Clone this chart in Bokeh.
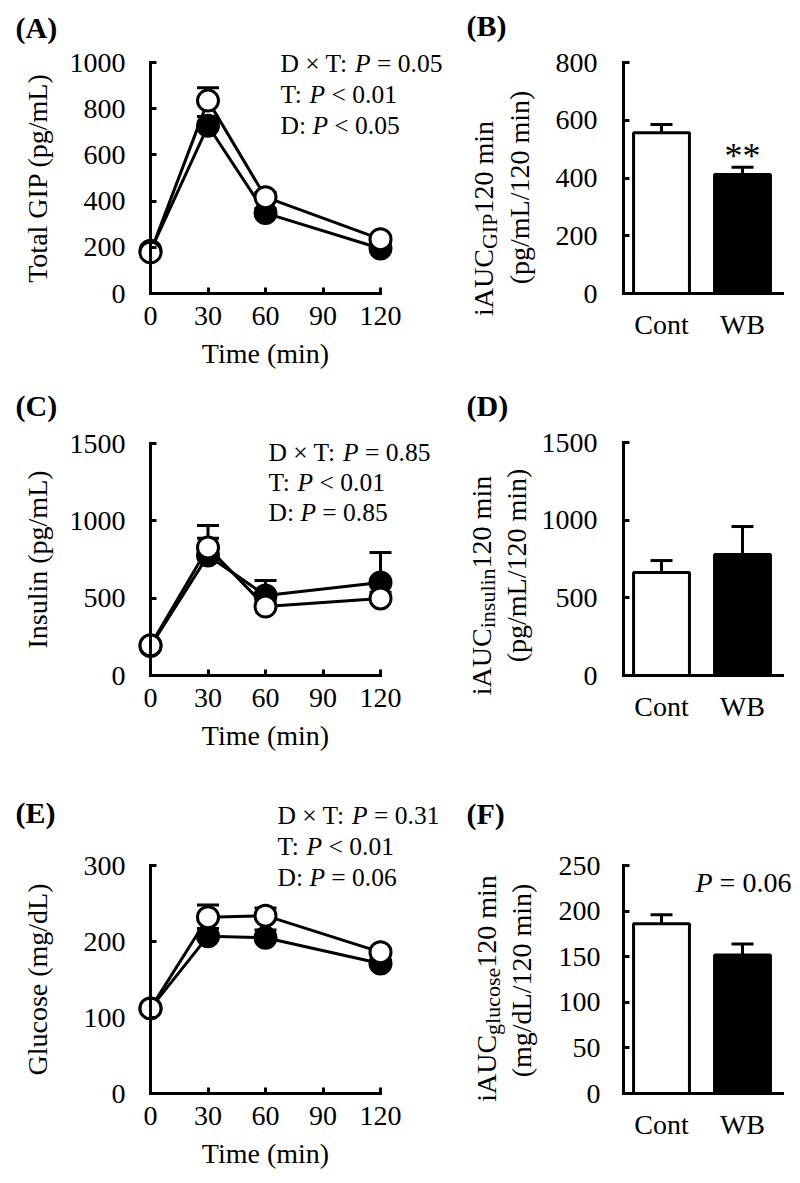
import math
from bokeh.plotting import figure
from bokeh.layouts import column, row
from bokeh.models import Label, Whisker, ColumnDataSource, FixedTicker, Range1d, TeeHead
from bokeh.embed import file_html
from bokeh.resources import INLINE

FONT = "Liberation Serif"

# ---------------- data ----------------
time_points = [0, 30, 60, 120]
time_ticks = [0, 30, 60, 90, 120]
groups = ["Cont", "WB"]

gip_cont = [178, 835, 417, 235]
gip_cont_se = [12, 56, 20, 15]
gip_wb = [185, 726, 348, 195]
gip_wb_se = [12, 40, 20, 15]
gip_ticks = [0, 200, 400, 600, 800, 1000]

ins_cont = [195, 828, 446, 498]
ins_cont_se = [20, 60, 40, 40]
ins_wb = [190, 776, 517, 601]
ins_wb_se = [20, 194, 97, 194]
ins_ticks = [0, 500, 1000, 1500]

glu_cont = [112, 232, 234, 186]
glu_cont_se = [4, 16, 10, 5]
glu_wb = [112, 207, 205, 171]
glu_wb_se = [4, 10, 10, 5]
glu_ticks = [0, 100, 200, 300]

auc_gip = [557, 412]
auc_gip_se = [28, 25]
auc_gip_ticks = [0, 200, 400, 600, 800]

auc_ins = [663, 779]
auc_ins_se = [77, 180]
auc_ins_ticks = [0, 500, 1000, 1500]

auc_glu = [186, 152]
auc_glu_se = [10, 12]
auc_glu_ticks = [0, 50, 100, 150, 200, 250]

# ---------------- text metrics (Times / Liberation Serif) ----------------
W_REG = {' ': 250, 'D': 722, '×': 564, 'T': 611, ':': 278, 'P': 556, '=': 564, '<': 564,
         '.': 250, 'i': 278, 'A': 722, 'U': 722, 'C': 667, 'G': 722, 'I': 333, 'n': 500,
         's': 389, 'u': 500, 'l': 278, 'g': 500, 'c': 444, 'o': 500, 'e': 444, 'm': 778,
         '(': 333, ')': 333, 'p': 500, '/': 278, 'L': 611, 'd': 500, 't': 278, 'W': 944, 'B': 667}
for _d in "0123456789":
    W_REG[_d] = 500
W_ITAL = {'P': 611}


def tw(s, size, italic=False):
    tot = 0
    for c in s:
        if italic and c in W_ITAL:
            tot += W_ITAL[c]
        else:
            tot += W_REG.get(c, 500)
    return tot * size / 1000.0


def make_fig(origin, size, xmap, ymap):
    ox, oy = origin
    W, H = size
    L, T, R, B = ox, oy, ox + W, oy + H
    xd0, xp0, sx = xmap
    yd0, yp0, sy = ymap

    def xd(px):
        return xd0 + (px - xp0) / sx

    def yd(py):
        return yd0 + (yp0 - py) / sy

    p = figure(width=W, height=H, x_range=Range1d(xd(L), xd(R)), y_range=Range1d(yd(B), yd(T)),
               output_backend="svg", toolbar_location=None,
               min_border_left=0, min_border_right=0, min_border_top=0, min_border_bottom=0)
    p.outline_line_color = None
    p.xgrid.visible = False
    p.ygrid.visible = False
    p.background_fill_color = "white"
    p.border_fill_color = "white"
    return p, xd, yd


def style_axis(ax, size=28):
    ax.axis_line_width = 3
    ax.axis_line_color = "black"
    ax.axis_line_cap = "square"
    ax.major_tick_line_width = 3
    ax.major_tick_line_color = "black"
    ax.major_tick_in = 6
    ax.major_tick_out = 0
    ax.minor_tick_line_color = None
    ax.major_label_text_font = FONT
    ax.major_label_text_font_size = f"{size}px"
    ax.major_label_text_color = "black"
    ax.axis_label_text_font = FONT
    ax.axis_label_text_font_size = "28px"
    ax.axis_label_text_font_style = "normal"
    ax.axis_label_text_color = "black"


def add_label(p, x, y, text, size, style="normal", align="left", baseline="middle", angle=0.0):
    p.add_layout(Label(x=x, y=y, text=text, text_font=FONT, text_font_size=f"{size}px",
                       text_font_style=style, text_align=align, text_baseline=baseline,
                       angle=angle, text_color="black"))


def add_segments(p, xd, yd, px, py, segs, size):
    x = px
    for txt, ital in segs:
        add_label(p, xd(x), yd(py), txt, size, style="italic" if ital else "normal")
        x += tw(txt, size, ital) + tw(" ", size)


def errorbars(p, xs, ys, se, head):
    src = ColumnDataSource(dict(x=xs, lo=ys, hi=[a + b for a, b in zip(ys, se)]))
    w = Whisker(source=src, base="x", lower="lo", upper="hi", dimension="height",
                line_width=3, line_color="black",
                upper_head=TeeHead(size=head, line_width=3, line_color="black"),
                lower_head=None, level="underlay")
    p.add_layout(w)


def line_panel(origin, size, ymap, cont, cont_se, wb, wb_se, yticks, ylabel,
               letter, letter_pos, annot, annot_pos, ylab_standoff):
    p, xd, yd = make_fig(origin, size, (0, 150, 230 / 120), ymap)
    errorbars(p, time_points, wb, wb_se, 22)
    errorbars(p, time_points, cont, cont_se, 22)
    p.line(time_points, wb, line_width=3, line_color="black")
    p.scatter(time_points, wb, marker="circle", size=21, fill_color="black",
              line_color="black", line_width=3)
    p.line(time_points, cont, line_width=3, line_color="black")
    p.scatter(time_points, cont, marker="circle", size=21, fill_color="white",
              line_color="black", line_width=3)

    xa = p.xaxis[0]
    ya = p.yaxis[0]
    style_axis(xa)
    style_axis(ya)
    xa.fixed_location = 0
    ya.fixed_location = 0
    xa.ticker = FixedTicker(ticks=time_ticks)
    ya.ticker = FixedTicker(ticks=yticks)
    xa.bounds = (time_ticks[0], time_ticks[-1])
    ya.bounds = (yticks[0], yticks[-1])
    xa.major_label_standoff = 13
    ya.major_label_standoff = 25
    xa.axis_label = "Time (min)"
    xa.axis_label_standoff = 10
    ya.axis_label = ylabel
    ya.axis_label_standoff = ylab_standoff

    add_label(p, xd(letter_pos[0]), yd(letter_pos[1]), letter, 30, style="bold")
    ax0, ay0, dy = annot_pos
    for k, segs in enumerate(annot):
        add_segments(p, xd, yd, ax0, ay0 + k * dy, segs, 25.5)
    return p


def bar_panel(origin, size, ymap, vals, se, yticks, letter, letter_pos,
              sub, lab1_pos, lab2_pos, ylab_standoff_px=26):
    xmap = (1, 661, 81)
    p, xd, yd = make_fig(origin, size, xmap, ymap)
    pos = [i + 1 for i in range(len(groups))]
    errorbars(p, pos, vals, se, 22)
    p.vbar(x=pos, top=vals, bottom=0, width=0.69, fill_color=["white", "black"],
           line_color="black", line_width=3)
    xa = p.xaxis[0]
    ya = p.yaxis[0]
    style_axis(xa)
    style_axis(ya)
    xa.fixed_location = 0
    ya.fixed_location = xd(623)
    xa.bounds = (xd(623), xd(782))
    ya.bounds = (yticks[0], yticks[-1])
    xa.ticker = FixedTicker(ticks=pos)
    xa.major_label_overrides = {pp: g for pp, g in zip(pos, groups)}
    xa.major_tick_in = 0
    xa.major_tick_out = 0
    xa.major_label_standoff = 15
    ya.ticker = FixedTicker(ticks=yticks)
    ya.major_label_standoff = ylab_standoff_px

    add_label(p, xd(letter_pos[0]), yd(letter_pos[1]), letter, 30, style="bold")

    # rotated two-line y label: iAUC_sub 120 min / (unit/120 min)
    main, subsz = 28, 22
    (cx1, cy1) = lab1_pos
    parts = [("iAUC", main, 0), (sub, subsz, 6), ("120 min", main, 0)]
    total = sum(tw(t, s) for t, s, _ in parts)
    ystart = cy1 + total / 2
    for t, s, shift in parts:
        add_label(p, xd(cx1 - 9 + shift), yd(ystart), t, s, align="left",
                  baseline="alphabetic", angle=math.pi / 2)
        ystart -= tw(t, s)
    (cx2, cy2, unit) = lab2_pos
    add_label(p, xd(cx2 - 9), yd(cy2), unit, main, align="center",
              baseline="alphabetic", angle=math.pi / 2)
    return p, xd, yd


annot_A = [[("D × T:", False), ("P", True), ("= 0.05", False)],
           [("T:", False), ("P", True), ("< 0.01", False)],
           [("D:", False), ("P", True), ("< 0.05", False)]]
annot_C = [[("D × T:", False), ("P", True), ("= 0.85", False)],
           [("T:", False), ("P", True), ("< 0.01", False)],
           [("D:", False), ("P", True), ("= 0.85", False)]]
annot_E = [[("D × T:", False), ("P", True), ("= 0.31", False)],
           [("T:", False), ("P", True), ("< 0.01", False)],
           [("D:", False), ("P", True), ("= 0.06", False)]]

pA = line_panel((0, 0), (448, 378), (0, 293, 231 / 1000),
                gip_cont, gip_cont_se, gip_wb, gip_wb_se, gip_ticks, "Total GIP (pg/mL)",
                "(A)", (15, 27), annot_A, (280, 63, 31), 14)
pC = line_panel((0, 378), (448, 390), (0, 675, 232 / 1500),
                ins_cont, ins_cont_se, ins_wb, ins_wb_se, ins_ticks, "Insulin (pg/mL)",
                "(C)", (15, 405), annot_C, (268, 452, 30), 14)
pE = line_panel((0, 768), (448, 412), (0, 1093, 228 / 300),
                glu_cont, glu_cont_se, glu_wb, glu_wb_se, glu_ticks, "Glucose (mg/dL)",
                "(E)", (15, 812), annot_E, (277, 815, 31), 28)

pB, xdB, ydB = bar_panel((448, 0), (352, 378), (0, 293, 231 / 800),
                         auc_gip, auc_gip_se, auc_gip_ticks, "(B)", (466, 25), "GIP",
                         (492, 218), (528, 187, "(pg/mL/120 min)"))
add_label(pB, xdB(742), ydB(155), "**", 36, align="center")

pD, xdD, ydD = bar_panel((448, 378), (352, 390), (0, 675, 233 / 1500),
                         auc_ins, auc_ins_se, auc_ins_ticks, "(D)", (466, 405), "insulin",
                         (490, 585), (525, 565, "(pg/mL/120 min)"))

pF, xdF, ydF = bar_panel((448, 768), (352, 412), (0, 1093, 228 / 250),
                         auc_glu, auc_glu_se, auc_glu_ticks, "(F)", (466, 813), "glucose",
                         (495, 988), (530, 980, "(mg/dL/120 min)"), 23)
add_segments(pF, xdF, ydF, 695, 882, [("P", True), ("= 0.06", False)], 28)

layout = column(row(pA, pB), row(pC, pD), row(pE, pF))
open("out.html", "w").write(file_html(layout, INLINE))
